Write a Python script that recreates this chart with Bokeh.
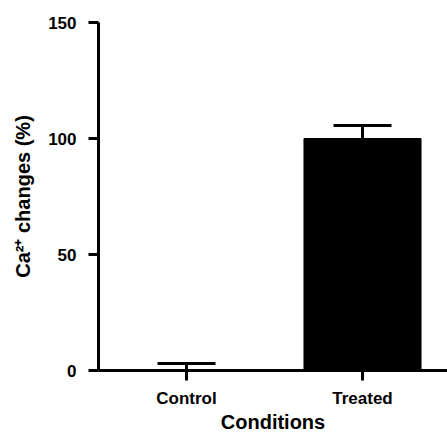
from bokeh.plotting import figure
from bokeh.models import ColumnDataSource, Whisker, TeeHead, FixedTicker, Range1d
from bokeh.embed import file_html
from bokeh.resources import INLINE

# ---- data ----
categories = ["Control", "Treated"]
means = [0.0, 100.0]
errors = [3.0, 5.6]
y_ticks = [0, 50, 100, 150]

xpos = [i + 0.5 for i in range(len(categories))]
upper = [m + e for m, e in zip(means, errors)]
src = ColumnDataSource(dict(x=xpos, top=means, upper=upper, lower=means))

FONT = "Liberation Sans"
X_END = 349 / 176.0

p = figure(width=447, height=435, x_range=Range1d(0, X_END), y_range=Range1d(0, 150),
           output_backend="svg", toolbar_location=None,
           min_border_left=98, min_border_right=0, min_border_top=22, min_border_bottom=65)

p.vbar(x="x", top="top", bottom=0, width=0.665, source=src,
       fill_color="black", line_color="black", line_width=1)

p.add_layout(Whisker(base="x", upper="upper", lower="lower", source=src,
                     upper_head=TeeHead(size=58, line_width=3, line_color="black"),
                     lower_head=None, line_width=3, line_color="black"))

p.xaxis.ticker = FixedTicker(ticks=xpos)
p.xaxis.major_label_overrides = {x: c for x, c in zip(xpos, categories)}
p.yaxis.ticker = FixedTicker(ticks=y_ticks)

for ax in [p.xaxis[0], p.yaxis[0]]:
    ax.axis_line_width = 3
    ax.axis_line_color = "black"
    ax.major_tick_line_width = 3
    ax.major_tick_line_color = "black"
    ax.major_tick_out = 10
    ax.major_tick_in = 0
    ax.minor_tick_line_color = None
    ax.major_label_text_font = FONT
    ax.major_label_text_font_style = "bold"
    ax.major_label_text_font_size = "17px"
    ax.major_label_text_color = "black"
    ax.axis_label_text_font = FONT
    ax.axis_label_text_font_style = "bold"
    ax.axis_label_text_font_size = "20px"
    ax.axis_label_text_color = "black"
p.yaxis.major_label_standoff = 12
p.xaxis.major_label_standoff = 8
p.xaxis.axis_label = "Conditions"
p.xaxis.axis_label_standoff = 0
p.yaxis.axis_label = "Ca\u00b2\u207a changes (%)"
p.yaxis.axis_label_standoff = 11

p.grid.visible = False
p.outline_line_color = None

open("out.html", "w").write(file_html(p, INLINE))
